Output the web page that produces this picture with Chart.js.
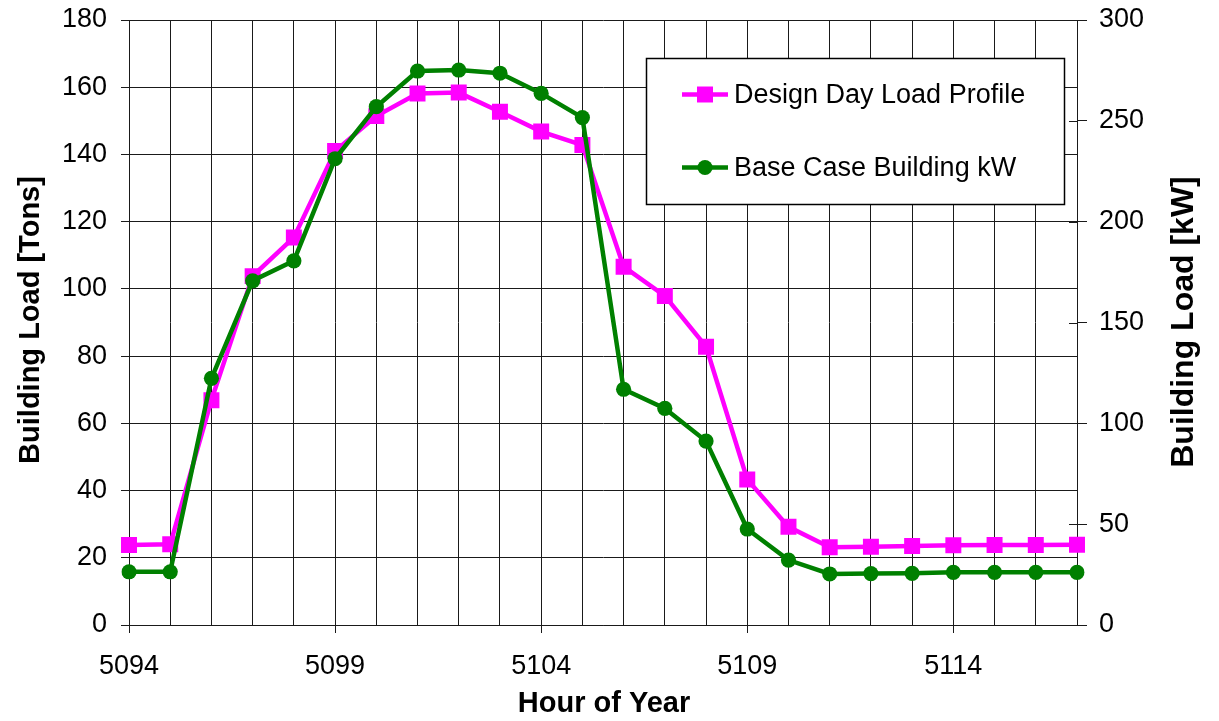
<!DOCTYPE html>
<html>
<head>
<meta charset="utf-8">
<title>Building Load – Design Day</title>
<script src="https://cdn.jsdelivr.net/npm/chart.js@4.4.1/dist/chart.umd.min.js"></script>
<style>
  html, body { margin: 0; padding: 0; background: #ffffff; }
  #wrap { width: 1219px; height: 721px; }
</style>
</head>
<body>
<div id="wrap"><canvas id="c" width="1219" height="721"></canvas></div>
<script>
// Hour of year (x categories)
const hours = [5094, 5095, 5096, 5097, 5098, 5099, 5100, 5101, 5102, 5103, 5104, 5105,
               5106, 5107, 5108, 5109, 5110, 5111, 5112, 5113, 5114, 5115, 5116, 5117];

// Design day load profile [Tons] – left axis
const designDayTons = [23.8, 24.0, 66.9, 103.8, 115.3, 141.0, 151.4, 158.1, 158.4, 152.7, 146.8, 142.8,
                       106.6, 97.9, 82.8, 43.3, 29.2, 23.1, 23.3, 23.5, 23.7, 23.8, 23.8, 23.9];

// Base case building demand [kW] – right axis
const baseCaseKW = [26.4, 26.4, 122.3, 170.7, 180.6, 231.2, 257.0, 274.7, 275.2, 273.6, 263.6, 251.6,
                    116.9, 107.4, 91.2, 47.6, 32.2, 25.3, 25.5, 25.6, 26.1, 26.1, 26.1, 26.1];

// Axis ranges / labelled hours
const tonsRange = { min: 0, max: 180, step: 20 };
const kwRange = { min: 0, max: 300, step: 50 };
const labelledHours = [5094, 5099, 5104, 5109, 5114];

const seriesNames = ['Design Day Load Profile', 'Base Case Building kW'];
const axisTitles = { x: 'Hour of Year', left: 'Building Load [Tons]', right: 'Building Load [kW]' };

const MAGENTA = '#ff00ff';
const GREEN = '#008000';
const GRID = '#1a1a1a';
const FONT = '"Liberation Sans", Arial, sans-serif';

// Titles, inner half of the right-axis ticks, and the boxed legend
const decorations = {
  id: 'decorations',
  afterDraw(chart) {
    const { ctx, chartArea } = chart;
    const yR = chart.scales.y1;

    // right axis: tick marks also reach into the plot area
    ctx.save();
    ctx.strokeStyle = GRID;
    ctx.lineWidth = 1;
    yR.ticks.forEach(t => {
      const py = Math.round(yR.getPixelForValue(t.value)) + 0.5;
      ctx.beginPath();
      ctx.moveTo(chartArea.right - 8, py);
      ctx.lineTo(chartArea.right, py);
      ctx.stroke();
    });
    ctx.restore();

    // axis titles
    ctx.save();
    ctx.fillStyle = '#000';
    ctx.textAlign = 'center';
    ctx.textBaseline = 'middle';
    ctx.font = 'bold 29px ' + FONT;
    ctx.fillText(axisTitles.x, (chartArea.left + chartArea.right) / 2 + 1, 704);

    ctx.save();
    ctx.translate(31, 320);
    ctx.rotate(-Math.PI / 2);
    ctx.font = 'bold 29px ' + FONT;
    ctx.fillText(axisTitles.left, 0, 0);
    ctx.restore();

    ctx.save();
    ctx.translate(1184, 322);
    ctx.rotate(-Math.PI / 2);
    ctx.font = 'bold 32px ' + FONT;
    ctx.fillText(axisTitles.right, 0, 0);
    ctx.restore();
    ctx.restore();

    // legend box
    const box = { x: 646.5, y: 58.5, w: 418, h: 146 };
    ctx.save();
    ctx.fillStyle = '#ffffff';
    ctx.fillRect(box.x, box.y, box.w, box.h);
    ctx.strokeStyle = '#000';
    ctx.lineWidth = 1.5;
    ctx.strokeRect(box.x, box.y, box.w, box.h);

    const rows = [94.5, 167.5];
    chart.data.datasets.forEach((ds, i) => {
      const yy = rows[i];
      ctx.strokeStyle = ds.borderColor;
      ctx.lineWidth = ds.borderWidth;
      ctx.beginPath();
      ctx.moveTo(682, yy);
      ctx.lineTo(728, yy);
      ctx.stroke();
      ctx.fillStyle = ds.pointBackgroundColor;
      ctx.strokeStyle = ds.pointBorderColor;
      Chart.helpers.drawPoint(ctx, {
        pointStyle: ds.pointStyle,
        radius: ds.pointRadius,
        rotation: 0,
        borderWidth: ds.pointBorderWidth
      }, 705, yy);
      ctx.fillStyle = '#000';
      ctx.font = '27px ' + FONT;
      ctx.textAlign = 'left';
      ctx.textBaseline = 'middle';
      ctx.fillText(ds.label, 734, yy + 1);
    });
    ctx.restore();
  }
};

// fixed axis boxes so the plot area sits at a set place
const fitVertical = width => s => { s.width = width; s.paddingTop = 0; s.paddingBottom = 0; };

new Chart(document.getElementById('c'), {
  type: 'line',
  data: {
    labels: hours,
    datasets: [
      {
        label: seriesNames[0],
        data: designDayTons,
        yAxisID: 'y',
        order: 1,
        borderColor: MAGENTA,
        backgroundColor: MAGENTA,
        borderWidth: 4.5,
        tension: 0,
        pointStyle: 'rect',
        pointRadius: 11.3,
        pointBackgroundColor: MAGENTA,
        pointBorderColor: MAGENTA,
        pointBorderWidth: 0,
        pointHoverRadius: 11.3
      },
      {
        label: seriesNames[1],
        data: baseCaseKW,
        yAxisID: 'y1',
        order: 0,
        borderColor: GREEN,
        backgroundColor: GREEN,
        borderWidth: 4.5,
        tension: 0,
        pointStyle: 'circle',
        pointRadius: 7.6,
        pointBackgroundColor: GREEN,
        pointBorderColor: GREEN,
        pointBorderWidth: 0,
        pointHoverRadius: 7.6
      }
    ]
  },
  options: {
    responsive: false,
    animation: false,
    events: [],
    layout: { padding: { top: 20, left: 0, right: 0, bottom: 0 } },
    plugins: { legend: { display: false }, tooltip: { enabled: false }, title: { display: false } },
    scales: {
      x: {
        type: 'category',
        offset: false,
        grid: {
          color: GRID,
          lineWidth: 1,
          tickLength: 8,
          tickColor: c => (labelledHours.includes(hours[c.index]) ? GRID : 'rgba(0,0,0,0)')
        },
        border: { color: GRID, width: 1 },
        ticks: {
          autoSkip: false,
          maxRotation: 0,
          padding: 17,
          color: '#000',
          font: { family: FONT, size: 27 },
          callback: (v, i) => (labelledHours.includes(hours[i]) ? String(hours[i]) : '')
        },
        afterFit: s => { s.height = 96; s.paddingLeft = 0; s.paddingRight = 0; }
      },
      y: {
        position: 'left',
        min: tonsRange.min,
        max: tonsRange.max,
        grid: { color: GRID, lineWidth: 1, tickLength: 8 },
        border: { color: GRID, width: 1 },
        ticks: {
          stepSize: tonsRange.step,
          padding: 14,
          color: '#000',
          font: { family: FONT, size: 27 }
        },
        afterFit: fitVertical(129)
      },
      y1: {
        position: 'right',
        min: kwRange.min,
        max: kwRange.max,
        grid: { drawOnChartArea: false, color: GRID, lineWidth: 1, tickLength: 10 },
        border: { color: GRID, width: 1 },
        ticks: {
          stepSize: kwRange.step,
          padding: 12,
          color: '#000',
          font: { family: FONT, size: 27 }
        },
        afterFit: fitVertical(142)
      }
    }
  },
  plugins: [decorations]
});
</script>
</body>
</html>
